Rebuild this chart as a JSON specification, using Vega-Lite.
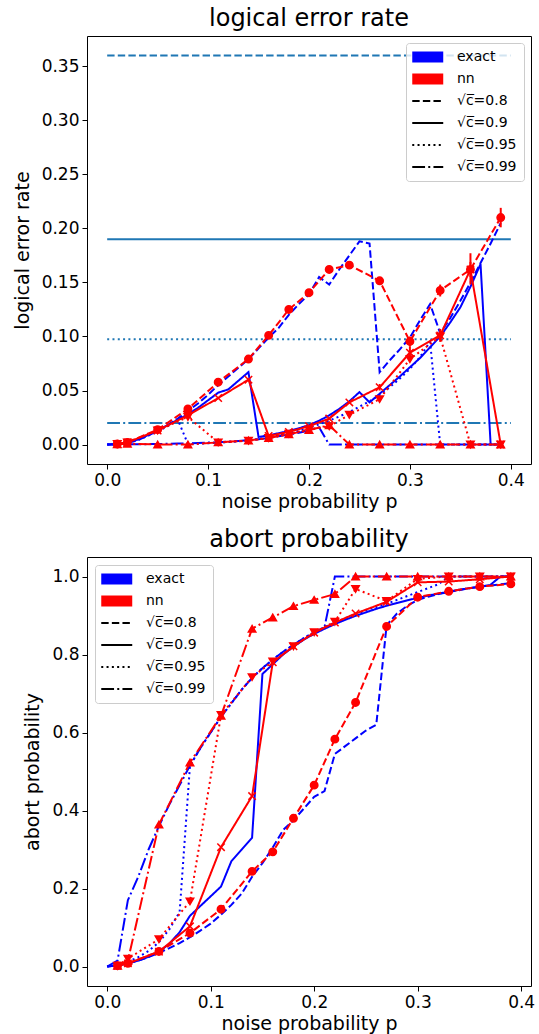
{
  "$schema": "https://vega.github.io/schema/vega-lite/v6.json",
  "padding": {"left": 12, "top": 6, "right": 7, "bottom": 1},
  "spacing": 15,
  "config": {
    "font": "DejaVu Sans",
    "view": {"stroke": "black", "strokeWidth": 1},
    "axis": {"grid": false, "domain": false, "tickColor": "black", "tickSize": 5, "tickWidth": 1, "labelPadding": 3, "labelFontSize": 17, "labelColor": "black", "labelFont": "DejaVu Sans", "titleFontSize": 19, "titleFontWeight": "normal", "titleColor": "black", "titleFont": "DejaVu Sans"},
    "axisX": {"titlePadding": 4},
    "axisY": {"titlePadding": 9},
    "title": {"fontSize": 24, "fontWeight": "normal", "font": "DejaVu Sans", "color": "black", "offset": 5, "anchor": "middle"}
  },
  "datasets": {
    "th": [
      {"c": "0.8", "p": 0, "p2": 0.4, "v": 0.36},
      {"c": "0.9", "p": 0, "p2": 0.4, "v": 0.19},
      {"c": "0.95", "p": 0, "p2": 0.4, "v": 0.0975},
      {"c": "0.99", "p": 0, "p2": 0.4, "v": 0.0199}
    ],
    "te": [
      {"c":"0.8","p":0,"v":0},{"c":"0.8","p":0.01,"v":0.0003},{"c":"0.8","p":0.02,"v":0.0015},{"c":"0.8","p":0.03,"v":0.004},{"c":"0.8","p":0.04,"v":0.008},{"c":"0.8","p":0.05,"v":0.013},{"c":"0.8","p":0.06,"v":0.018},{"c":"0.8","p":0.07,"v":0.024},{"c":"0.8","p":0.08,"v":0.031},{"c":"0.8","p":0.09,"v":0.038},{"c":"0.8","p":0.1,"v":0.046},{"c":"0.8","p":0.11,"v":0.055},{"c":"0.8","p":0.12,"v":0.063},{"c":"0.8","p":0.13,"v":0.071},{"c":"0.8","p":0.14,"v":0.079},{"c":"0.8","p":0.15,"v":0.089},{"c":"0.8","p":0.16,"v":0.099},{"c":"0.8","p":0.17,"v":0.108},{"c":"0.8","p":0.18,"v":0.12},{"c":"0.8","p":0.19,"v":0.13},{"c":"0.8","p":0.2,"v":0.139},{"c":"0.8","p":0.21,"v":0.155},{"c":"0.8","p":0.22,"v":0.148},{"c":"0.8","p":0.23,"v":0.162},{"c":"0.8","p":0.24,"v":0.175},{"c":"0.8","p":0.25,"v":0.188},{"c":"0.8","p":0.26,"v":0.186},{"c":"0.8","p":0.27,"v":0.067},{"c":"0.8","p":0.28,"v":0.078},{"c":"0.8","p":0.29,"v":0.088},{"c":"0.8","p":0.3,"v":0.099},{"c":"0.8","p":0.31,"v":0.115},{"c":"0.8","p":0.32,"v":0.13},{"c":"0.8","p":0.33,"v":0.103},{"c":"0.8","p":0.34,"v":0.117},{"c":"0.8","p":0.35,"v":0.133},{"c":"0.8","p":0.36,"v":0.15},{"c":"0.8","p":0.37,"v":0.168},{"c":"0.8","p":0.38,"v":0.186},{"c":"0.8","p":0.39,"v":0.205},
      {"c":"0.9","p":0,"v":0},{"c":"0.9","p":0.01,"v":0.0004},{"c":"0.9","p":0.02,"v":0.0018},{"c":"0.9","p":0.03,"v":0.0045},{"c":"0.9","p":0.04,"v":0.0085},{"c":"0.9","p":0.05,"v":0.013},{"c":"0.9","p":0.06,"v":0.018},{"c":"0.9","p":0.07,"v":0.023},{"c":"0.9","p":0.08,"v":0.028},{"c":"0.9","p":0.09,"v":0.034},{"c":"0.9","p":0.1,"v":0.041},{"c":"0.9","p":0.11,"v":0.048},{"c":"0.9","p":0.12,"v":0.051},{"c":"0.9","p":0.13,"v":0.059},{"c":"0.9","p":0.14,"v":0.067},{"c":"0.9","p":0.15,"v":0.007},{"c":"0.9","p":0.16,"v":0.0085},{"c":"0.9","p":0.17,"v":0.0105},{"c":"0.9","p":0.18,"v":0.0125},{"c":"0.9","p":0.19,"v":0.015},{"c":"0.9","p":0.2,"v":0.018},{"c":"0.9","p":0.21,"v":0.022},{"c":"0.9","p":0.22,"v":0.027},{"c":"0.9","p":0.23,"v":0.033},{"c":"0.9","p":0.24,"v":0.04},{"c":"0.9","p":0.25,"v":0.0485},{"c":"0.9","p":0.26,"v":0.039},{"c":"0.9","p":0.27,"v":0.047},{"c":"0.9","p":0.28,"v":0.055},{"c":"0.9","p":0.29,"v":0.063},{"c":"0.9","p":0.3,"v":0.0715},{"c":"0.9","p":0.31,"v":0.08},{"c":"0.9","p":0.32,"v":0.09},{"c":"0.9","p":0.33,"v":0.1},{"c":"0.9","p":0.34,"v":0.113},{"c":"0.9","p":0.35,"v":0.127},{"c":"0.9","p":0.36,"v":0.146},{"c":"0.9","p":0.37,"v":0.167},{"c":"0.9","p":0.38,"v":0},{"c":"0.9","p":0.39,"v":0},
      {"c":"0.95","p":0,"v":0},{"c":"0.95","p":0.01,"v":0.0003},{"c":"0.95","p":0.02,"v":0.0015},{"c":"0.95","p":0.03,"v":0.004},{"c":"0.95","p":0.04,"v":0.008},{"c":"0.95","p":0.05,"v":0.012},{"c":"0.95","p":0.06,"v":0.017},{"c":"0.95","p":0.07,"v":0.023},{"c":"0.95","p":0.08,"v":0.0005},{"c":"0.95","p":0.09,"v":0.0008},{"c":"0.95","p":0.1,"v":0.0012},{"c":"0.95","p":0.11,"v":0.0017},{"c":"0.95","p":0.12,"v":0.0023},{"c":"0.95","p":0.13,"v":0.003},{"c":"0.95","p":0.14,"v":0.004},{"c":"0.95","p":0.15,"v":0.0052},{"c":"0.95","p":0.16,"v":0.0066},{"c":"0.95","p":0.17,"v":0.0083},{"c":"0.95","p":0.18,"v":0.0103},{"c":"0.95","p":0.19,"v":0.0127},{"c":"0.95","p":0.2,"v":0.0155},{"c":"0.95","p":0.21,"v":0.0187},{"c":"0.95","p":0.22,"v":0.0222},{"c":"0.95","p":0.23,"v":0.026},{"c":"0.95","p":0.24,"v":0.03},{"c":"0.95","p":0.25,"v":0.035},{"c":"0.95","p":0.26,"v":0.04},{"c":"0.95","p":0.27,"v":0.046},{"c":"0.95","p":0.28,"v":0.053},{"c":"0.95","p":0.29,"v":0.061},{"c":"0.95","p":0.3,"v":0.07},{"c":"0.95","p":0.31,"v":0.081},{"c":"0.95","p":0.32,"v":0.095},{"c":"0.95","p":0.33,"v":0},{"c":"0.95","p":0.34,"v":0},{"c":"0.95","p":0.35,"v":0},{"c":"0.95","p":0.36,"v":0},{"c":"0.95","p":0.37,"v":0},{"c":"0.95","p":0.38,"v":0},{"c":"0.95","p":0.39,"v":0},
      {"c":"0.99","p":0,"v":0},{"c":"0.99","p":0.01,"v":0.0001},{"c":"0.99","p":0.02,"v":0.0002},{"c":"0.99","p":0.03,"v":0.0003},{"c":"0.99","p":0.04,"v":0.0004},{"c":"0.99","p":0.05,"v":0.0005},{"c":"0.99","p":0.06,"v":0.0007},{"c":"0.99","p":0.07,"v":0.0009},{"c":"0.99","p":0.08,"v":0.0011},{"c":"0.99","p":0.09,"v":0.0014},{"c":"0.99","p":0.1,"v":0.0018},{"c":"0.99","p":0.11,"v":0.0022},{"c":"0.99","p":0.12,"v":0.0027},{"c":"0.99","p":0.13,"v":0.0033},{"c":"0.99","p":0.14,"v":0.004},{"c":"0.99","p":0.15,"v":0.005},{"c":"0.99","p":0.16,"v":0.0062},{"c":"0.99","p":0.17,"v":0.0076},{"c":"0.99","p":0.18,"v":0.0092},{"c":"0.99","p":0.19,"v":0.011},{"c":"0.99","p":0.2,"v":0.013},{"c":"0.99","p":0.21,"v":0.016},{"c":"0.99","p":0.22,"v":0},{"c":"0.99","p":0.23,"v":0},{"c":"0.99","p":0.24,"v":0},{"c":"0.99","p":0.25,"v":0},{"c":"0.99","p":0.26,"v":0},{"c":"0.99","p":0.27,"v":0},{"c":"0.99","p":0.28,"v":0},{"c":"0.99","p":0.29,"v":0},{"c":"0.99","p":0.3,"v":0},{"c":"0.99","p":0.31,"v":0},{"c":"0.99","p":0.32,"v":0},{"c":"0.99","p":0.33,"v":0},{"c":"0.99","p":0.34,"v":0},{"c":"0.99","p":0.35,"v":0},{"c":"0.99","p":0.36,"v":0},{"c":"0.99","p":0.37,"v":0},{"c":"0.99","p":0.38,"v":0},{"c":"0.99","p":0.39,"v":0}
    ],
    "tn": [
      {"c":"0.8","p":0.01,"v":0.0005},{"c":"0.8","p":0.02,"v":0.002},{"c":"0.8","p":0.05,"v":0.0138},{"c":"0.8","p":0.08,"v":0.033},{"c":"0.8","p":0.11,"v":0.0577},{"c":"0.8","p":0.14,"v":0.0791},{"c":"0.8","p":0.16,"v":0.101},{"c":"0.8","p":0.18,"v":0.125},{"c":"0.8","p":0.2,"v":0.1405},{"c":"0.8","p":0.22,"v":0.162},{"c":"0.8","p":0.24,"v":0.166},{"c":"0.8","p":0.27,"v":0.1515},{"c":"0.8","p":0.3,"v":0.0954,"lo":0.091,"hi":0.1},{"c":"0.8","p":0.33,"v":0.1426,"lo":0.137,"hi":0.148},{"c":"0.8","p":0.36,"v":0.162,"lo":0.155,"hi":0.169},{"c":"0.8","p":0.39,"v":0.21,"lo":0.201,"hi":0.219},
      {"c":"0.9","p":0.01,"v":0.0005},{"c":"0.9","p":0.02,"v":0.002},{"c":"0.9","p":0.05,"v":0.013},{"c":"0.9","p":0.08,"v":0.027},{"c":"0.9","p":0.11,"v":0.043},{"c":"0.9","p":0.14,"v":0.06},{"c":"0.9","p":0.16,"v":0.008},{"c":"0.9","p":0.18,"v":0.0117},{"c":"0.9","p":0.2,"v":0.017},{"c":"0.9","p":0.22,"v":0.024},{"c":"0.9","p":0.24,"v":0.039},{"c":"0.9","p":0.27,"v":0.053,"lo":0.05,"hi":0.056},{"c":"0.9","p":0.3,"v":0.085,"lo":0.079,"hi":0.091},{"c":"0.9","p":0.33,"v":0.101,"lo":0.095,"hi":0.107},{"c":"0.9","p":0.36,"v":0.162,"lo":0.148,"hi":0.177},{"c":"0.9","p":0.39,"v":0},
      {"c":"0.95","p":0.01,"v":0.0005},{"c":"0.95","p":0.02,"v":0.002},{"c":"0.95","p":0.05,"v":0.013},{"c":"0.95","p":0.08,"v":0.0255},{"c":"0.95","p":0.11,"v":0.002},{"c":"0.95","p":0.14,"v":0.0035},{"c":"0.95","p":0.16,"v":0.006},{"c":"0.95","p":0.18,"v":0.01},{"c":"0.95","p":0.2,"v":0.014},{"c":"0.95","p":0.22,"v":0.017},{"c":"0.95","p":0.24,"v":0.0275},{"c":"0.95","p":0.27,"v":0.042},{"c":"0.95","p":0.3,"v":0.079},{"c":"0.95","p":0.33,"v":0.1},{"c":"0.95","p":0.36,"v":0},{"c":"0.95","p":0.39,"v":0},
      {"c":"0.99","p":0.01,"v":0.0003},{"c":"0.99","p":0.02,"v":0.0008},{"c":"0.99","p":0.05,"v":0},{"c":"0.99","p":0.08,"v":0},{"c":"0.99","p":0.11,"v":0.002},{"c":"0.99","p":0.14,"v":0.0037},{"c":"0.99","p":0.16,"v":0.006},{"c":"0.99","p":0.18,"v":0.0095},{"c":"0.99","p":0.2,"v":0.0135},{"c":"0.99","p":0.22,"v":0.0178},{"c":"0.99","p":0.24,"v":0},{"c":"0.99","p":0.27,"v":0},{"c":"0.99","p":0.3,"v":0},{"c":"0.99","p":0.33,"v":0},{"c":"0.99","p":0.36,"v":0},{"c":"0.99","p":0.39,"v":0}
    ],
    "be": [
      {"c":"0.8","p":0,"v":0},{"c":"0.8","p":0.01,"v":0.003},{"c":"0.8","p":0.02,"v":0.008},{"c":"0.8","p":0.03,"v":0.015},{"c":"0.8","p":0.04,"v":0.024},{"c":"0.8","p":0.05,"v":0.035},{"c":"0.8","p":0.06,"v":0.047},{"c":"0.8","p":0.07,"v":0.06},{"c":"0.8","p":0.08,"v":0.075},{"c":"0.8","p":0.09,"v":0.092},{"c":"0.8","p":0.1,"v":0.11},{"c":"0.8","p":0.11,"v":0.133},{"c":"0.8","p":0.12,"v":0.158},{"c":"0.8","p":0.13,"v":0.187},{"c":"0.8","p":0.14,"v":0.23},{"c":"0.8","p":0.15,"v":0.265},{"c":"0.8","p":0.16,"v":0.305},{"c":"0.8","p":0.17,"v":0.35},{"c":"0.8","p":0.18,"v":0.375},{"c":"0.8","p":0.19,"v":0.405},{"c":"0.8","p":0.2,"v":0.435},{"c":"0.8","p":0.21,"v":0.45},{"c":"0.8","p":0.22,"v":0.545},{"c":"0.8","p":0.23,"v":0.565},{"c":"0.8","p":0.24,"v":0.585},{"c":"0.8","p":0.25,"v":0.605},{"c":"0.8","p":0.26,"v":0.62},{"c":"0.8","p":0.27,"v":0.875},{"c":"0.8","p":0.28,"v":0.905},{"c":"0.8","p":0.29,"v":0.925},{"c":"0.8","p":0.3,"v":0.94},{"c":"0.8","p":0.31,"v":0.948},{"c":"0.8","p":0.32,"v":0.955},{"c":"0.8","p":0.33,"v":0.96},{"c":"0.8","p":0.34,"v":0.965},{"c":"0.8","p":0.35,"v":0.97},{"c":"0.8","p":0.36,"v":0.974},{"c":"0.8","p":0.37,"v":0.977},{"c":"0.8","p":0.38,"v":0.98},{"c":"0.8","p":0.39,"v":0.983},
      {"c":"0.9","p":0,"v":0},{"c":"0.9","p":0.01,"v":0.003},{"c":"0.9","p":0.02,"v":0.008},{"c":"0.9","p":0.03,"v":0.015},{"c":"0.9","p":0.04,"v":0.025},{"c":"0.9","p":0.05,"v":0.038},{"c":"0.9","p":0.06,"v":0.058},{"c":"0.9","p":0.07,"v":0.088},{"c":"0.9","p":0.08,"v":0.13},{"c":"0.9","p":0.09,"v":0.155},{"c":"0.9","p":0.1,"v":0.18},{"c":"0.9","p":0.11,"v":0.205},{"c":"0.9","p":0.12,"v":0.27},{"c":"0.9","p":0.13,"v":0.3},{"c":"0.9","p":0.14,"v":0.33},{"c":"0.9","p":0.15,"v":0.75},{"c":"0.9","p":0.16,"v":0.775},{"c":"0.9","p":0.17,"v":0.8},{"c":"0.9","p":0.18,"v":0.82},{"c":"0.9","p":0.19,"v":0.838},{"c":"0.9","p":0.2,"v":0.853},{"c":"0.9","p":0.21,"v":0.866},{"c":"0.9","p":0.22,"v":0.878},{"c":"0.9","p":0.23,"v":0.889},{"c":"0.9","p":0.24,"v":0.899},{"c":"0.9","p":0.25,"v":0.908},{"c":"0.9","p":0.26,"v":0.917},{"c":"0.9","p":0.27,"v":0.925},{"c":"0.9","p":0.28,"v":0.932},{"c":"0.9","p":0.29,"v":0.939},{"c":"0.9","p":0.3,"v":0.945},{"c":"0.9","p":0.31,"v":0.951},{"c":"0.9","p":0.32,"v":0.956},{"c":"0.9","p":0.33,"v":0.961},{"c":"0.9","p":0.34,"v":0.966},{"c":"0.9","p":0.35,"v":0.97},{"c":"0.9","p":0.36,"v":0.974},{"c":"0.9","p":0.37,"v":0.978},{"c":"0.9","p":0.38,"v":1},{"c":"0.9","p":0.39,"v":1},
      {"c":"0.95","p":0,"v":0},{"c":"0.95","p":0.01,"v":0.004},{"c":"0.95","p":0.02,"v":0.012},{"c":"0.95","p":0.03,"v":0.024},{"c":"0.95","p":0.04,"v":0.04},{"c":"0.95","p":0.05,"v":0.062},{"c":"0.95","p":0.06,"v":0.095},{"c":"0.95","p":0.07,"v":0.14},{"c":"0.95","p":0.08,"v":0.515},{"c":"0.95","p":0.09,"v":0.56},{"c":"0.95","p":0.1,"v":0.6},{"c":"0.95","p":0.11,"v":0.64},{"c":"0.95","p":0.12,"v":0.675},{"c":"0.95","p":0.13,"v":0.71},{"c":"0.95","p":0.14,"v":0.74},{"c":"0.95","p":0.15,"v":0.765},{"c":"0.95","p":0.16,"v":0.787},{"c":"0.95","p":0.17,"v":0.807},{"c":"0.95","p":0.18,"v":0.825},{"c":"0.95","p":0.19,"v":0.842},{"c":"0.95","p":0.2,"v":0.857},{"c":"0.95","p":0.21,"v":0.87},{"c":"0.95","p":0.22,"v":0.882},{"c":"0.95","p":0.23,"v":0.893},{"c":"0.95","p":0.24,"v":0.903},{"c":"0.95","p":0.25,"v":0.913},{"c":"0.95","p":0.26,"v":0.922},{"c":"0.95","p":0.27,"v":0.93},{"c":"0.95","p":0.28,"v":0.94},{"c":"0.95","p":0.29,"v":0.95},{"c":"0.95","p":0.3,"v":0.96},{"c":"0.95","p":0.31,"v":0.97},{"c":"0.95","p":0.32,"v":0.98},{"c":"0.95","p":0.33,"v":1},{"c":"0.95","p":0.34,"v":1},{"c":"0.95","p":0.35,"v":1},{"c":"0.95","p":0.36,"v":1},{"c":"0.95","p":0.37,"v":1},{"c":"0.95","p":0.38,"v":1},{"c":"0.95","p":0.39,"v":1},
      {"c":"0.99","p":0,"v":0},{"c":"0.99","p":0.01,"v":0.015},{"c":"0.99","p":0.02,"v":0.17},{"c":"0.99","p":0.03,"v":0.23},{"c":"0.99","p":0.04,"v":0.3},{"c":"0.99","p":0.05,"v":0.36},{"c":"0.99","p":0.06,"v":0.415},{"c":"0.99","p":0.07,"v":0.465},{"c":"0.99","p":0.08,"v":0.515},{"c":"0.99","p":0.09,"v":0.56},{"c":"0.99","p":0.1,"v":0.6},{"c":"0.99","p":0.11,"v":0.64},{"c":"0.99","p":0.12,"v":0.675},{"c":"0.99","p":0.13,"v":0.71},{"c":"0.99","p":0.14,"v":0.74},{"c":"0.99","p":0.15,"v":0.765},{"c":"0.99","p":0.16,"v":0.787},{"c":"0.99","p":0.17,"v":0.807},{"c":"0.99","p":0.18,"v":0.825},{"c":"0.99","p":0.19,"v":0.842},{"c":"0.99","p":0.2,"v":0.857},{"c":"0.99","p":0.21,"v":0.87},{"c":"0.99","p":0.22,"v":1},{"c":"0.99","p":0.23,"v":1},{"c":"0.99","p":0.24,"v":1},{"c":"0.99","p":0.25,"v":1},{"c":"0.99","p":0.26,"v":1},{"c":"0.99","p":0.27,"v":1},{"c":"0.99","p":0.28,"v":1},{"c":"0.99","p":0.29,"v":1},{"c":"0.99","p":0.3,"v":1},{"c":"0.99","p":0.31,"v":1},{"c":"0.99","p":0.32,"v":1},{"c":"0.99","p":0.33,"v":1},{"c":"0.99","p":0.34,"v":1},{"c":"0.99","p":0.35,"v":1},{"c":"0.99","p":0.36,"v":1},{"c":"0.99","p":0.37,"v":1},{"c":"0.99","p":0.38,"v":1},{"c":"0.99","p":0.39,"v":1}
    ],
    "bn": [
      {"c":"0.8","p":0.01,"v":0.002},{"c":"0.8","p":0.02,"v":0.008},{"c":"0.8","p":0.05,"v":0.0386},{"c":"0.8","p":0.08,"v":0.0857},{"c":"0.8","p":0.11,"v":0.147},{"c":"0.8","p":0.14,"v":0.244},{"c":"0.8","p":0.16,"v":0.294},{"c":"0.8","p":0.18,"v":0.38},{"c":"0.8","p":0.2,"v":0.465},{"c":"0.8","p":0.22,"v":0.583},{"c":"0.8","p":0.24,"v":0.677},{"c":"0.8","p":0.27,"v":0.872},{"c":"0.8","p":0.3,"v":0.947},{"c":"0.8","p":0.33,"v":0.962},{"c":"0.8","p":0.36,"v":0.974},{"c":"0.8","p":0.39,"v":0.981},
      {"c":"0.9","p":0.01,"v":0.002},{"c":"0.9","p":0.02,"v":0.008},{"c":"0.9","p":0.05,"v":0.038},{"c":"0.9","p":0.08,"v":0.103},{"c":"0.9","p":0.11,"v":0.306},{"c":"0.9","p":0.14,"v":0.437},{"c":"0.9","p":0.16,"v":0.78},{"c":"0.9","p":0.18,"v":0.821},{"c":"0.9","p":0.2,"v":0.856},{"c":"0.9","p":0.22,"v":0.882},{"c":"0.9","p":0.24,"v":0.905},{"c":"0.9","p":0.27,"v":0.935},{"c":"0.9","p":0.3,"v":0.985},{"c":"0.9","p":0.33,"v":0.987},{"c":"0.9","p":0.36,"v":0.993},{"c":"0.9","p":0.39,"v":1},
      {"c":"0.95","p":0.01,"v":0.002},{"c":"0.95","p":0.02,"v":0.02},{"c":"0.95","p":0.05,"v":0.07},{"c":"0.95","p":0.08,"v":0.167},{"c":"0.95","p":0.11,"v":0.645},{"c":"0.95","p":0.14,"v":0.742},{"c":"0.95","p":0.16,"v":0.782},{"c":"0.95","p":0.18,"v":0.821},{"c":"0.95","p":0.2,"v":0.857},{"c":"0.95","p":0.22,"v":0.884},{"c":"0.95","p":0.24,"v":0.968},{"c":"0.95","p":0.27,"v":0.937},{"c":"0.95","p":0.3,"v":0.994},{"c":"0.95","p":0.33,"v":1},{"c":"0.95","p":0.36,"v":1},{"c":"0.95","p":0.39,"v":1},
      {"c":"0.99","p":0.01,"v":0.002},{"c":"0.99","p":0.02,"v":0.015},{"c":"0.99","p":0.05,"v":0.364},{"c":"0.99","p":0.08,"v":0.523},{"c":"0.99","p":0.11,"v":0.643},{"c":"0.99","p":0.14,"v":0.866},{"c":"0.99","p":0.16,"v":0.895},{"c":"0.99","p":0.18,"v":0.924},{"c":"0.99","p":0.2,"v":0.94},{"c":"0.99","p":0.22,"v":0.955},{"c":"0.99","p":0.24,"v":1},{"c":"0.99","p":0.27,"v":1},{"c":"0.99","p":0.3,"v":1},{"c":"0.99","p":0.33,"v":1},{"c":"0.99","p":0.36,"v":1},{"c":"0.99","p":0.39,"v":1}
    ]
  },
  "vconcat": [
    {
      "title": {"text": "logical error rate"},
      "width": 444,
      "height": 428,
      "encoding": {
        "x": {"field": "p", "type": "quantitative", "scale": {"domain": [-0.02, 0.42], "nice": false, "zero": false}, "axis": {"values": [0, 0.1, 0.2, 0.3, 0.4], "format": ".1f", "title": "noise probability p"}},
        "y": {"field": "v", "type": "quantitative", "scale": {"domain": [-0.018, 0.378], "nice": false, "zero": false}, "axis": {"values": [0, 0.05, 0.1, 0.15, 0.2, 0.25, 0.3, 0.35], "format": ".2f", "title": "logical error rate"}}
      },
      "layer": [
        {
          "data": {"name": "th"},
          "mark": {"type": "rule", "strokeWidth": 2, "color": "#1f77b4"},
          "encoding": {
            "x2": {"field": "p2"},
            "strokeDash": {"field": "c", "type": "nominal", "scale": {"domain": ["0.8", "0.9", "0.95", "0.99"], "range": [[7.4, 3.2], [1, 0], [2, 3.3], [12.8, 3.2, 2, 3.2]]}, "legend": null}
          }
        },
        {
          "data": {"name": "te"},
          "mark": {"type": "line", "strokeWidth": 2},
          "encoding": {
            "color": {"datum": "exact", "type": "nominal", "scale": {"domain": ["exact", "nn", "√c=0.8", "√c=0.9", "√c=0.95", "√c=0.99"], "range": ["#0000ff", "#ff0000", "black", "black", "black", "black"]},
              "legend": {"title": null, "orient": "top-right", "offset": 7, "symbolType": "M-1,0H3", "symbolSize": 240, "symbolStrokeWidth": 2, "labelFontSize": 14, "labelFont": "DejaVu Sans", "labelColor": "black", "labelOffset": 30, "labelExpr": "replace(datum.label, '√c', '√c̅')", "rowPadding": 8, "padding": 7, "fillColor": "rgba(255,255,255,0.8)", "strokeColor": "#cccccc", "cornerRadius": 3,
                "encode": {"symbols": {"update": {
                  "shape": {"signal": "indexof(['exact','nn'], datum.value) >= 0 ? 'M-1,-0.71H3V0.71H-1Z' : 'M-1,0H3'"},
                  "fill": {"signal": "datum.value == 'exact' ? '#0000ff' : datum.value == 'nn' ? '#ff0000' : 'transparent'"},
                  "strokeWidth": {"signal": "indexof(['exact','nn'], datum.value) >= 0 ? 0 : 2"},
                  "strokeDash": {"signal": "datum.value == '√c=0.8' ? [7.4,3.2] : datum.value == '√c=0.95' ? [2,3.3] : datum.value == '√c=0.99' ? [12.8,3.2,2,3.2] : [1,0]"}
                }}}
              }},
            "strokeDash": {"field": "c", "type": "nominal", "legend": null},
            "detail": {"field": "c"}
          }
        },
        {
          "data": {"name": "tn"},
          "mark": {"type": "line", "strokeWidth": 2},
          "encoding": {
            "color": {"datum": "nn", "type": "nominal"},
            "strokeDash": {"field": "c", "type": "nominal", "legend": null},
            "detail": {"field": "c"}
          }
        },
        {
          "data": {"name": "tn"},
          "transform": [{"filter": "isValid(datum.lo)"}],
          "mark": {"type": "rule", "strokeWidth": 2, "color": "#ff0000"},
          "encoding": {
            "y": {"field": "lo", "type": "quantitative", "scale": {"domain": [-0.018, 0.378], "nice": false, "zero": false}, "axis": {"values": [0, 0.05, 0.1, 0.15, 0.2, 0.25, 0.3, 0.35], "format": ".2f", "title": "logical error rate"}},
            "y2": {"field": "hi"}
          }
        },
        {
          "data": {"name": "tn"},
          "mark": {"type": "point", "filled": true, "fill": "#ff0000", "stroke": "#ff0000", "strokeWidth": 1.5, "opacity": 1, "size": 55},
          "encoding": {
            "shape": {"field": "c", "type": "nominal", "scale": {"domain": ["0.8", "0.9", "0.95", "0.99"], "range": ["circle", "M-1,-1L1,1M1,-1L-1,1", "triangle-down", "triangle-up"]}, "legend": null}
          }
        }
      ]
    },
    {
      "title": {"text": "abort probability"},
      "width": 444,
      "height": 429,
      "encoding": {
        "x": {"field": "p", "type": "quantitative", "scale": {"domain": [-0.0195, 0.4095], "nice": false, "zero": false}, "axis": {"values": [0, 0.1, 0.2, 0.3, 0.4], "format": ".1f", "title": "noise probability p"}},
        "y": {"field": "v", "type": "quantitative", "scale": {"domain": [-0.05, 1.05], "nice": false, "zero": false}, "axis": {"values": [0, 0.2, 0.4, 0.6, 0.8, 1.0], "format": ".1f", "title": "abort probability"}}
      },
      "layer": [
        {
          "data": {"name": "be"},
          "mark": {"type": "line", "strokeWidth": 2},
          "encoding": {
            "color": {"datum": "exact", "type": "nominal", "scale": {"domain": ["exact", "nn", "√c=0.8", "√c=0.9", "√c=0.95", "√c=0.99"], "range": ["#0000ff", "#ff0000", "black", "black", "black", "black"]},
              "legend": {"title": null, "orient": "top-left", "offset": 8, "symbolType": "M-1,0H3", "symbolSize": 240, "symbolStrokeWidth": 2, "labelFontSize": 14, "labelFont": "DejaVu Sans", "labelColor": "black", "labelOffset": 30, "labelExpr": "replace(datum.label, '√c', '√c̅')", "rowPadding": 8, "padding": 7, "fillColor": "rgba(255,255,255,0.8)", "strokeColor": "#cccccc", "cornerRadius": 3,
                "encode": {"symbols": {"update": {
                  "shape": {"signal": "indexof(['exact','nn'], datum.value) >= 0 ? 'M-1,-0.71H3V0.71H-1Z' : 'M-1,0H3'"},
                  "fill": {"signal": "datum.value == 'exact' ? '#0000ff' : datum.value == 'nn' ? '#ff0000' : 'transparent'"},
                  "strokeWidth": {"signal": "indexof(['exact','nn'], datum.value) >= 0 ? 0 : 2"},
                  "strokeDash": {"signal": "datum.value == '√c=0.8' ? [7.4,3.2] : datum.value == '√c=0.95' ? [2,3.3] : datum.value == '√c=0.99' ? [12.8,3.2,2,3.2] : [1,0]"}
                }}}
              }},
            "strokeDash": {"field": "c", "type": "nominal", "scale": {"domain": ["0.8", "0.9", "0.95", "0.99"], "range": [[7.4, 3.2], [1, 0], [2, 3.3], [12.8, 3.2, 2, 3.2]]}, "legend": null},
            "detail": {"field": "c"}
          }
        },
        {
          "data": {"name": "bn"},
          "mark": {"type": "line", "strokeWidth": 2},
          "encoding": {
            "color": {"datum": "nn", "type": "nominal"},
            "strokeDash": {"field": "c", "type": "nominal", "legend": null},
            "detail": {"field": "c"}
          }
        },
        {
          "data": {"name": "bn"},
          "mark": {"type": "point", "filled": true, "fill": "#ff0000", "stroke": "#ff0000", "strokeWidth": 1.5, "opacity": 1, "size": 55},
          "encoding": {
            "shape": {"field": "c", "type": "nominal", "scale": {"domain": ["0.8", "0.9", "0.95", "0.99"], "range": ["circle", "M-1,-1L1,1M1,-1L-1,1", "triangle-down", "triangle-up"]}, "legend": null}
          }
        }
      ]
    }
  ],
  "resolve": {"scale": {"color": "independent"}, "legend": {"color": "independent"}}
}
